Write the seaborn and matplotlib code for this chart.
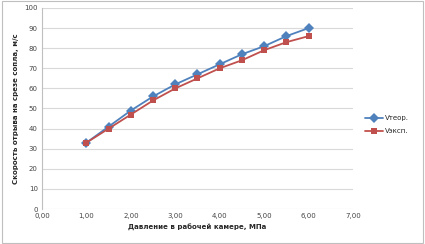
import numpy as np
import pandas as pd
import matplotlib
matplotlib.use("Agg")
import matplotlib.pyplot as plt
import seaborn as sns

# Data
pressure = [1.0, 1.5, 2.0, 2.5, 3.0, 3.5, 4.0, 4.5, 5.0, 5.5, 6.0]
v_theor = [33, 41, 49, 56, 62, 67, 72, 77, 81, 86, 90]
v_exp = [33, 40, 47, 54, 60, 65, 70, 74, 79, 83, 86]
series_names = ["Vтеор.", "Vэксп."]

df = pd.DataFrame({"p": pressure * 2,
                   "v": v_theor + v_exp,
                   "series": [series_names[0]] * len(pressure) + [series_names[1]] * len(pressure)})

sns.set_style("white")
plt.rcParams["font.family"] = ["DejaVu Sans"]

fig = plt.figure(figsize=(4.25, 2.44), dpi=100)
ax = fig.add_axes([42 / 425, 35 / 244, 311 / 425, 201 / 244])

sns.lineplot(data=df, x="p", y="v", hue="series", style="series",
             palette=["#4F81BD", "#C0504D"], markers=["D", "s"], dashes=False,
             markersize=5, linewidth=1.3, markeredgewidth=0, ax=ax)

ax.set_xlim(0, 7)
ax.set_ylim(0, 100)
ax.set_xticks(np.arange(0, 8, 1))
ax.set_xticklabels([f"{t:.2f}".replace(".", ",") for t in range(8)])
ax.set_yticks(np.arange(0, 101, 10))
ax.tick_params(labelsize=5, colors="#444444", length=0, pad=3)
ax.yaxis.grid(True, color="#d9d9d9", linewidth=0.8)
for s in ["top", "right", "bottom"]:
    ax.spines[s].set_visible(False)
ax.spines["left"].set_color("#bfbfbf")
ax.spines["left"].set_linewidth(0.8)

ax.set_xlabel("Давление в рабочей камере, МПа", fontsize=5, fontweight="bold", labelpad=3)
ax.set_ylabel("Скорость отрыва на срезе сопла, м/с", fontsize=5, fontweight="bold", labelpad=4)

ax.legend(loc="center left", bbox_to_anchor=(1.02, 0.42), frameon=False, fontsize=5,
          handlelength=2.5, handletextpad=0.3, labelspacing=1.0)

fig.patches.append(plt.Rectangle((0.004, 0.006), 0.992, 0.988, transform=fig.transFigure,
                                 fill=False, edgecolor="#bfbfbf", linewidth=0.8))

fig.savefig("out.png", dpi=100)
